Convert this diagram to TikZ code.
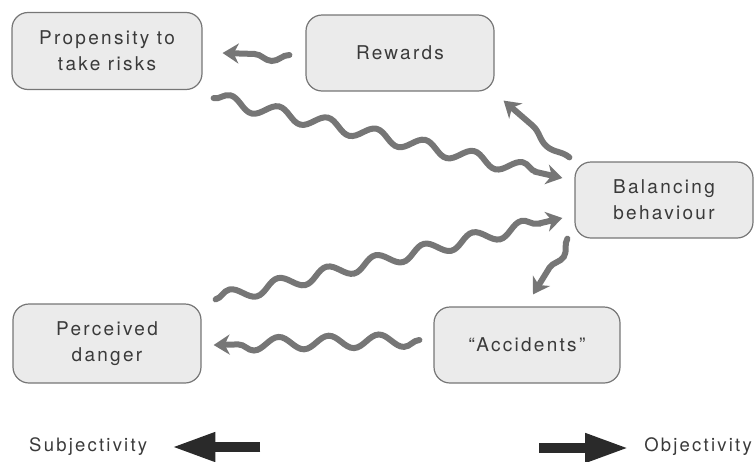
\documentclass[tikz,border=0pt]{standalone}
\usepackage{fontspec}
\newfontfamily\diagfont[LetterSpace=12]{TeX Gyre Heros}
\usetikzlibrary{arrows.meta,decorations.pathmorphing,calc}
\definecolor{boxfill}{HTML}{EBEBEB}
\definecolor{boxline}{HTML}{767676}
\definecolor{txt}{HTML}{3A3A3A}
\definecolor{wavecol}{HTML}{767676}
\definecolor{bigarrow}{HTML}{2A2A2A}
\begin{document}
\begin{tikzpicture}[x=1pt,y=-1pt,
  box/.style={draw=boxline, line width=1.2pt, fill=boxfill, rounded corners=16pt,
    align=center, text=txt, font=\diagfont\fontsize{19}{26}\selectfont, inner sep=0pt},
  wavy/.style n args={2}{draw=wavecol, line width=6pt, line cap=round,
    decorate, decoration={snake, amplitude=6.5pt, segment length=#1, post length=#2},
    -{Stealth[length=16pt,width=20pt,inset=5pt]}},
  label/.style={text=txt, font=\diagfont\fontsize{18.5}{20}\selectfont, inner sep=0pt},
  bigarr/.style={draw=bigarrow, line width=10pt, -{Triangle[length=44pt,width=27pt]}}
]
\useasboundingbox (0,0) rectangle (754,461);

\node[box, minimum width=190pt, minimum height=77pt] (prop) at (107,51) {Propensity to\\take risks};
\node[box, minimum width=188pt, minimum height=76pt] (rew) at (400,53) {Rewards};
\node[box, minimum width=178pt, minimum height=76pt] (bal) at (664,200) {Balancing\\behaviour};
\node[box, minimum width=188pt, minimum height=79pt] (perc) at (107,343.5) {Perceived\\danger};
\node[box, minimum width=186pt, minimum height=76pt] (acc) at (527,345) {“Accidents”};

\node[label, anchor=west] (subj) at (29,447) {Subjectivity};
\node[label, anchor=east] (obj) at (752,447) {Objectivity};

% connector end points, placed relative to the boxes
\coordinate (r2p-a) at ($(rew.west)+(-16,2)$);
\coordinate (r2p-b) at ($(prop.east)+(20,2)$);
\coordinate (p2b-a) at ($(prop.south east)+(11,8)$);
\coordinate (p2b-b) at ($(bal.west)+(-12,-22)$);
\coordinate (b2r-a) at ($(bal.north west)+(-5,-4)$);
\coordinate (b2r-b) at ($(rew.south east)+(9,9)$);
\coordinate (d2b-a) at ($(perc.north east)+(14,-4)$);
\coordinate (d2b-b) at ($(bal.west)+(-12,18)$);
\coordinate (b2a-a) at ($(bal.south west)+(-7,0)$);
\coordinate (b2a-b) at ($(acc.north)+(6,-12)$);
\coordinate (a2d-a) at ($(acc.west)+(-14,-5)$);
\coordinate (a2d-b) at ($(perc.east)+(12,1.5)$);
\coordinate (subj-a) at ($(subj.east)+(113,0)$);
\coordinate (subj-b) at ($(subj.east)+(24,0)$);
\coordinate (obj-a) at ($(obj.west)+(-105,1)$);
\coordinate (obj-b) at ($(obj.west)+(-15,1)$);

\draw[wavy={56pt}{12pt}] (r2p-a) -- (r2p-b);
\draw[wavy={50pt}{9pt}] (p2b-a) -- (p2b-b);
\draw[wavy={78pt}{10pt}] (b2r-a) -- (b2r-b);
\draw[wavy={50pt}{7.5pt}] (d2b-a) -- (d2b-b);
\draw[wavy={55pt}{10pt}] (b2a-a) -- (b2a-b);
\draw[wavy={50pt}{7pt}] (a2d-a) -- (a2d-b);

\draw[bigarr] (subj-a) -- (subj-b);
\draw[bigarr] (obj-a) -- (obj-b);
\end{tikzpicture}
\end{document}
